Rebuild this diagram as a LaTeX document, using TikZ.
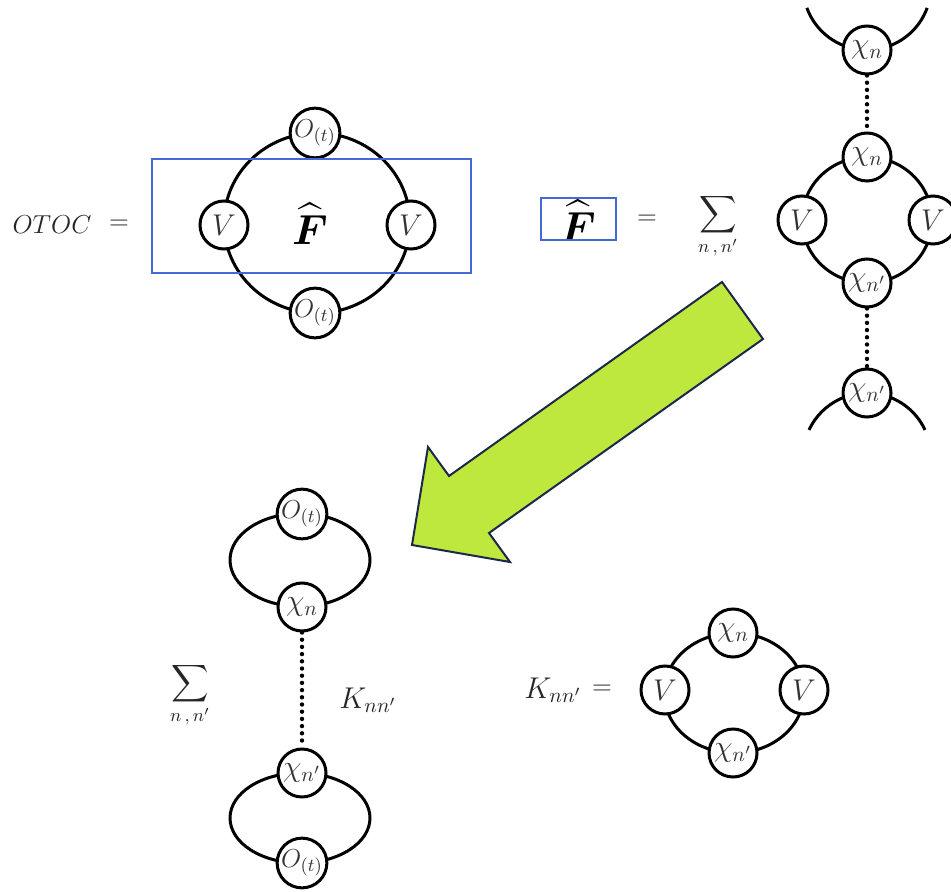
\RequirePackage{fix-cm}
\documentclass[tikz,border=0pt]{standalone}
\usepackage{amsmath,amssymb}
\usepackage{xcolor}
\usepackage{tikz}
\usetikzlibrary{calc}

\definecolor{boxblue}{RGB}{68,104,214}
\definecolor{arrowlime}{RGB}{190,232,62}
\definecolor{arrowedge}{RGB}{28,40,74}

\tikzset{
  loopline/.style={line width=1.5pt},
  vtx/.style={circle,draw,line width=1.5pt,fill=white,minimum size=24pt,inner sep=0pt,text=black!80,font=\fontsize{15}{17}\selectfont},
  opvtx/.style={vtx,font=\fontsize{13}{15}\selectfont},
  chain/.style={line width=2.2pt,line cap=round,dash pattern=on 0pt off 3.6pt},
  fbox/.style={draw=boxblue,line width=0.8pt},
  bigF/.style={font=\fontsize{21}{24}\selectfont},
  klabel/.style={text=black!85,font=\fontsize{15}{17}\selectfont},
}

\begin{document}
\begin{tikzpicture}[x=0.5pt,y=-0.5pt,font=\fontsize{13}{15}\selectfont]
\useasboundingbox (0,0) rectangle (951,892);
% OTOC as a four-vertex loop, F-hat boxed in blue
\node[text=black!85] (otoc) at (52,225) {$OTOC$};
\node[text=black!85] (eqA) at (119,225) {$=$};
\coordinate (loopA) at (317,223);
\draw[loopline] (loopA) ellipse [x radius=93, y radius=90];
\node[opvtx] (oTopA) at (315,133) {$O_{(t)}$};
\node[opvtx] (oBotA) at (315,313) {$O_{(t)}$};
\node[vtx] (vLeftA) at (224,225) {$V$};
\node[vtx] (vRightA) at (411,225) {$V$};
\node[bigF] (fA) at (310,224) {$\widehat{\boldsymbol{F}}$};
\draw[fbox] (152,159) rectangle (471,273);
% F-hat as a sum over the ladder
\node[bigF] (fB) at (578,221) {$\widehat{\boldsymbol{F}}$};
\draw[fbox] (541,198) rectangle (616,240);
\node[text=black!85] (eqB) at (647,220) {$=$};
\node[text=black!85] (sumB) at (718,226) {$\displaystyle\sum_{n\,,\,n'}$};
\coordinate (topB) at (867,-14);
\coordinate (loopB) at (867,220);
\coordinate (botB) at (867,457);
\draw[loopline] ([shift={(20:64)}]topB) arc (20:160:64);
\draw[loopline] (loopB) ellipse [x radius=65, y radius=63];
\draw[loopline] ([shift={(-25:64)}]botB) arc (-25:-155:64);
\node[vtx] (chiTopB) at (867,50) {$\chi_n$};
\node[vtx] (chiUpB) at (867,157) {$\chi_n$};
\node[vtx] (chiDnB) at (867,283) {$\chi_{n'}$};
\node[vtx] (chiBotB) at (867,393) {$\chi_{n'}$};
\node[vtx] (vLeftB) at (802,220) {$V$};
\node[vtx] (vRightB) at (933,220) {$V$};
\draw[chain] (chiTopB.south) -- (chiUpB.north);
\draw[chain] (chiDnB.south) -- (chiBotB.north);
% the big arrow
\filldraw[fill=arrowlime,draw=arrowedge,line width=1pt,line join=miter]
  (722,282) -- (763,339) -- (489,533) -- (510,562) -- (412,545) -- (428,447) -- (449,476) -- cycle;
% OTOC rewritten with the kernel
\node[text=black!85] (sumC) at (190,695) {$\displaystyle\sum_{n\,,\,n'}$};
\coordinate (upC) at (300,560);
\coordinate (lowC) at (300,818);
\draw[loopline] (upC) ellipse [x radius=70, y radius=46.5];
\draw[loopline] (lowC) ellipse [x radius=70, y radius=45];
\node[opvtx] (oTopC) at (302,514) {$O_{(t)}$};
\node[vtx] (chiUpC) at (302,607) {$\chi_n$};
\node[vtx] (chiDnC) at (302,773) {$\chi_{n'}$};
\node[opvtx] (oBotC) at (302,863) {$O_{(t)}$};
\draw[chain] (chiUpC.south) -- (chiDnC.north);
\node[klabel] (kC) at (368,700) {$K_{nn'}$};
% the kernel
\node[klabel] (kD) at (553,690) {$K_{nn'}$};
\node[text=black!85] (eqD) at (602,690) {$=$};
\coordinate (loopD) at (734,693);
\draw[loopline] (loopD) ellipse [x radius=70, y radius=60];
\node[vtx] (chiUpD) at (733,633) {$\chi_n$};
\node[vtx] (chiDnD) at (733,753) {$\chi_{n'}$};
\node[vtx] (vLeftD) at (665,690) {$V$};
\node[vtx] (vRightD) at (804,690) {$V$};
\end{tikzpicture}
\end{document}
